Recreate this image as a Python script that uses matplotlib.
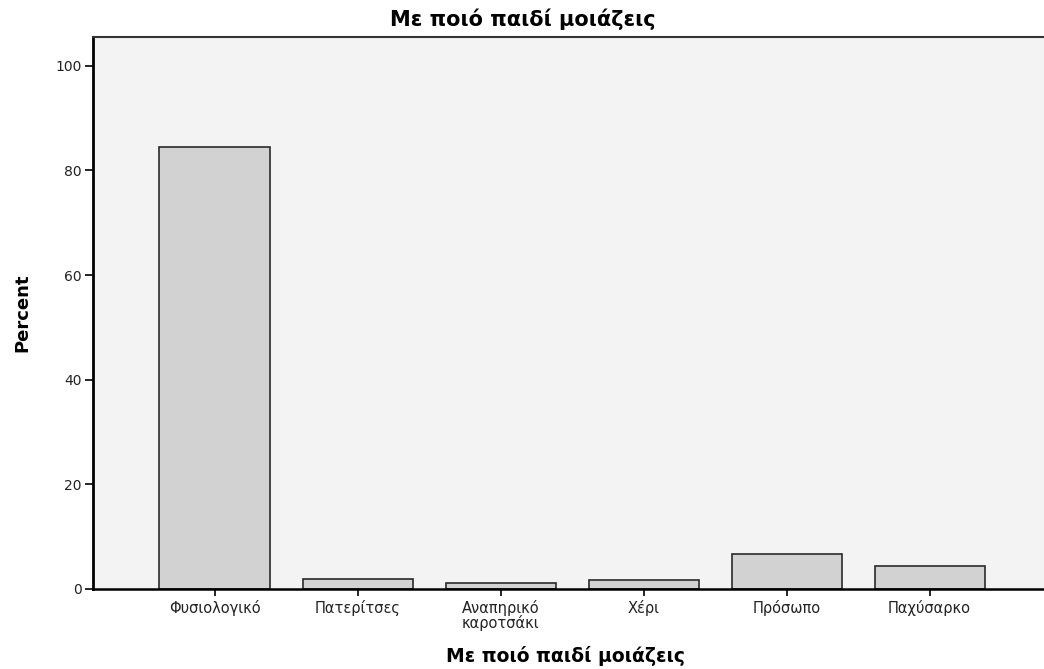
import matplotlib

matplotlib.use("Agg")

import matplotlib.pyplot as plt

categories = ["Φυσιολογικό", "Πατερίτσες", "Αναπηρικό\nκαροτσάκι", "Χέρι", "Πρόσωπο", "Παχύσαρκο"]
percents = [84.4, 1.9, 1.1, 1.7, 6.7, 4.4]
y_ticks = [0, 20, 40, 60, 80, 100]

TITLE = "Με ποιό παιδί μοιάζεις"

plt.rcParams["font.family"] = ["DejaVu Sans"]

fig = plt.figure(figsize=(10.44, 6.69), dpi=100)
ax = fig.add_axes([93 / 1044, 80 / 669, 1 - 93 / 1044, 552 / 669])
ax.set_facecolor("#f3f3f3")

x = list(range(len(categories)))
ax.bar(x, percents, width=0.77, color="#d2d2d2", edgecolor="#2a2a2a", linewidth=1.2, zorder=2)

ax.set_xlim(-0.85, 5.8)
ax.set_ylim(0, 105.5)
ax.set_yticks(y_ticks)
ax.set_yticklabels([str(v) for v in y_ticks], fontsize=10, color="#222222")
ax.set_xticks(x)
ax.set_xticklabels(categories, fontsize=10.5, color="#222222", linespacing=0.95)
ax.tick_params(axis="y", direction="out", length=6, width=1.2, pad=2)
ax.tick_params(axis="x", direction="out", length=5, width=1.2, pad=3)

ax.spines["right"].set_visible(False)
ax.spines["left"].set_linewidth(2)
ax.spines["bottom"].set_linewidth(1.8)
ax.spines["top"].set_linewidth(1.5)
ax.spines["top"].set_color("#333333")

fig.text(523 / 1044, 1 - 19 / 669, TITLE, ha="center", va="center", fontsize=15, fontweight="bold")
fig.text(566 / 1044, 1 - 656 / 669, TITLE, ha="center", va="center", fontsize=13.5, fontweight="bold")
fig.text(22 / 1044, 1 - 313 / 669, "Percent", ha="center", va="center", rotation=90, fontsize=13, fontweight="bold")

fig.savefig("out.png", dpi=100, facecolor="white")
